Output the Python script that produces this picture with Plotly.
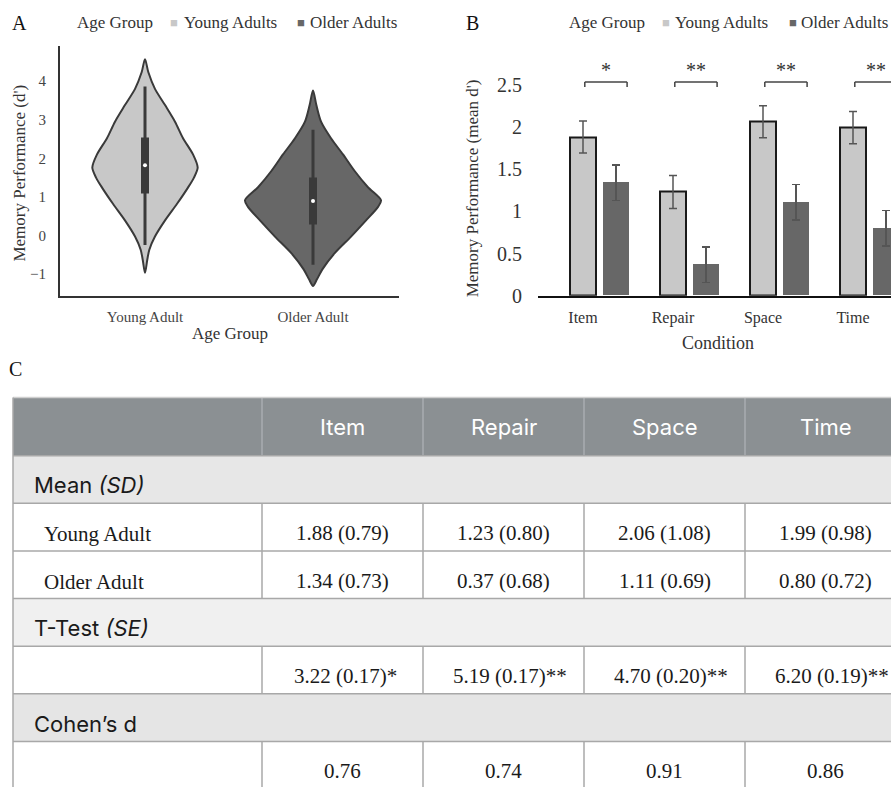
import plotly.graph_objects as go

W, H = 891, 798

# ---------------- data ----------------
age_groups = ["Young Adult", "Older Adult"]
legend_groups = ["Young Adults", "Older Adults"]
conditions = ["Item", "Repair", "Space", "Time"]

# Panel A: violin outlines (d' value, kernel density)
young_kde_y = [-0.97, -0.63, -0.37, -0.03, 0.39, 0.82, 1.24, 1.50, 1.76, 2.10, 2.52, 2.95, 3.38, 3.80, 4.23, 4.57]
young_kde_d = [0.0, 0.019, 0.036, 0.083, 0.167, 0.267, 0.358, 0.408, 0.439, 0.400, 0.317, 0.250, 0.167, 0.083, 0.028, 0.0]
older_kde_y = [-1.31, -1.14, -0.88, -0.46, -0.03, 0.39, 0.74, 0.91, 1.25, 1.67, 2.10, 2.52, 2.95, 3.38, 3.76]
older_kde_d = [0.0, 0.033, 0.078, 0.181, 0.317, 0.442, 0.542, 0.567, 0.458, 0.347, 0.250, 0.150, 0.067, 0.028, 0.0]
# inner box: whisker low, q1, median, q3, whisker high
young_box = [-0.25, 1.09, 1.82, 2.54, 3.86]
older_box = [-0.76, 0.28, 0.89, 1.50, 2.74]

# Panel B / table
young_mean = [1.88, 1.23, 2.06, 1.99]
older_mean = [1.34, 0.37, 1.11, 0.80]
young_sd = [0.79, 0.80, 1.08, 0.98]
older_sd = [0.73, 0.68, 0.69, 0.72]
young_err = [0.19, 0.195, 0.19, 0.19]
older_err = [0.21, 0.21, 0.21, 0.21]
sig_labels = ["*", "**", "**", "**"]
t_values = [3.22, 5.19, 4.70, 6.20]
t_se = [0.17, 0.17, 0.20, 0.19]
cohens_d = [0.76, 0.74, 0.91, 0.86]

# ---------------- style ----------------
SERIF = "Liberation Serif, Times New Roman, serif"
SANS = "Inter, Roboto, Arial, sans-serif"
LIGHT = "#c8c8c8"
DARK = "#676767"
EDGE = "#3a3a3a"
TXT = "#333333"


def pxx(x):
    return x / W


def pxy(y):
    return 1 - y / H


fig = go.Figure()

# ---------------- Panel A: violins ----------------
A_CAT_PX = 168.0
A_X0 = 145.0          # pixel of first category
A_ZERO = 238.7        # pixel of y = 0
A_UNIT = 39.1         # pixels per unit
WIDTH_SCALE = 120.0 / A_CAT_PX

for i, (ky, kd, stats, col) in enumerate([
    (young_kde_y, young_kde_d, young_box, LIGHT),
    (older_kde_y, older_kde_d, older_box, DARK),
]):
    right_x = [i + d * WIDTH_SCALE for d in kd]
    left_x = [i - d * WIDTH_SCALE for d in reversed(kd)][1:]
    xs = right_x + left_x
    ys = list(ky) + list(reversed(ky))[1:]
    fig.add_trace(go.Scatter(
        x=xs, y=ys, mode="lines", fill="toself", fillcolor=col,
        line=dict(color=EDGE, width=2, shape="spline", smoothing=0.8),
        xaxis="x", yaxis="y", showlegend=False, hoverinfo="skip"))
    lo, q1, med, q3, hi = stats
    fig.add_trace(go.Scatter(x=[i, i], y=[lo, hi], mode="lines",
                             line=dict(color="#3a3a3a", width=3),
                             xaxis="x", yaxis="y", showlegend=False, hoverinfo="skip"))
    fig.add_trace(go.Scatter(x=[i, i], y=[q1, q3], mode="lines",
                             line=dict(color="#3a3a3a", width=8),
                             xaxis="x", yaxis="y", showlegend=False, hoverinfo="skip"))
    fig.add_trace(go.Scatter(x=[i], y=[med], mode="markers",
                             marker=dict(color="white", size=4),
                             xaxis="x", yaxis="y", showlegend=False, hoverinfo="skip"))

# ---------------- Panel B: bars ----------------
B_CAT_PX = 90.0
B_X0 = 583.0
B_ZERO = 300.0
B_UNIT = 85.7
BAR_W = 0.29
OLDER_SHIFT = 0.367

fig.add_trace(go.Bar(
    x=conditions, y=young_mean, name=legend_groups[0], width=BAR_W, offset=-BAR_W / 2,
    marker=dict(color=LIGHT, line=dict(color="#1a1a1a", width=2)),
    error_y=dict(type="data", array=young_err, color="#555555", thickness=1.5, width=4),
    xaxis="x2", yaxis="y2", showlegend=False))
fig.add_trace(go.Bar(
    x=conditions, y=older_mean, name=legend_groups[1], width=BAR_W, offset=-BAR_W / 2 + OLDER_SHIFT,
    marker=dict(color=DARK, line=dict(color=DARK, width=0)),
    error_y=dict(type="data", array=older_err, color="#555555", thickness=1.5, width=4),
    xaxis="x2", yaxis="y2", showlegend=False))

shapes = []
annotations = []
BR_Y, BR_DROP, STAR_Y = 2.53, 0.06, 2.67
for i, s in enumerate(sig_labels):
    xa, xb = i + 0.02, i + 0.49
    for (x0, y0, x1, y1) in [(xa, BR_Y - BR_DROP, xa, BR_Y), (xa, BR_Y, xb, BR_Y), (xb, BR_Y, xb, BR_Y - BR_DROP)]:
        shapes.append(dict(type="line", xref="x2", yref="y2", x0=x0, y0=y0, x1=x1, y1=y1,
                           line=dict(color="#444444", width=1.5)))
    annotations.append(dict(xref="x2", yref="y2", x=(xa + xb) / 2, y=STAR_Y, text=s, showarrow=False,
                            xanchor="center", yanchor="middle",
                            font=dict(family=SERIF, size=20, color=TXT)))

# ---------------- Panel C: table ----------------
T_COL_PX = 161.0
T_C0 = 342.5          # pixel center of first data column
T_ROW_PX = 48.3
T_R0 = 486.15         # pixel center of first body row
TL = (13 - T_C0) / T_COL_PX
TR = len(conditions) - 0.5
HEAD_TOP = -0.5 - 59 / T_ROW_PX
HEAD_MID = (HEAD_TOP - 0.5) / 2

body_rows = [
    ("section", "Mean <i>(SD)</i>", None),
    ("data", age_groups[0], [f"{m:.2f} ({s:.2f})" for m, s in zip(young_mean, young_sd)]),
    ("data", age_groups[1], [f"{m:.2f} ({s:.2f})" for m, s in zip(older_mean, older_sd)]),
    ("section", "T-Test <i>(SE)</i>", None),
    ("data", "", [f"{t:.2f} ({se:.2f}){sg}" for t, se, sg in zip(t_values, t_se, sig_labels)]),
    ("section", "Cohen\u2019s d", None),
    ("data", "", [f"{d:.2f}" for d in cohens_d]),
]
section_fills = ["#e7e7e7", "#f0f0f0", "#e5e5e5"]
GRID = "#a8a8a8"
HEAD_FILL = "#8b9093"

shapes.append(dict(type="rect", xref="x3", yref="y3", x0=TL, x1=TR + 0.2, y0=HEAD_TOP, y1=-0.5,
                   fillcolor=HEAD_FILL, line=dict(width=0), layer="below"))
for j, c in enumerate(conditions):
    annotations.append(dict(xref="x3", yref="y3", x=j, y=HEAD_MID, text=c, showarrow=False,
                            xanchor="center", yanchor="middle",
                            font=dict(family=SANS, size=22, color="white")))
for j in range(len(conditions)):
    shapes.append(dict(type="line", xref="x3", yref="y3", x0=j - 0.5, x1=j - 0.5, y0=HEAD_TOP, y1=-0.5,
                       line=dict(color="#a9adb0", width=1.5)))

sec_k = 0
for r, (kind, label, vals) in enumerate(body_rows):
    if kind == "section":
        shapes.append(dict(type="rect", xref="x3", yref="y3", x0=TL, x1=TR + 0.2, y0=r - 0.5, y1=r + 0.5,
                           fillcolor=section_fills[sec_k], line=dict(width=0), layer="below"))
        sec_k += 1
        annotations.append(dict(xref="x3", yref="y3", x=(32 - T_C0) / T_COL_PX, y=r, text=label,
                                xanchor="left", yanchor="middle", showarrow=False, yshift=-6,
                                font=dict(family=SANS, size=22, color="#1a1a1a")))
    else:
        for j in range(len(conditions)):
            shapes.append(dict(type="line", xref="x3", yref="y3", x0=j - 0.5, x1=j - 0.5,
                               y0=r - 0.5, y1=r + 0.5, line=dict(color=GRID, width=1.5)))
        if label:
            annotations.append(dict(xref="x3", yref="y3", x=(42 - T_C0) / T_COL_PX, y=r, text=label,
                                    xanchor="left", yanchor="middle", showarrow=False, yshift=-7,
                                    font=dict(family=SERIF, size=21, color="#1a1a1a")))
        for j, v in enumerate(vals):
            # significance stars hang slightly to the right of the centred value
            n_star = len(v) - len(v.rstrip("*"))
            annotations.append(dict(xref="x3", yref="y3", x=j, y=r, text=v, showarrow=False, yshift=-6,
                                    xshift=3 * n_star, xanchor="center", yanchor="middle",
                                    font=dict(family=SERIF, size=21, color="#1a1a1a")))

for r in range(len(body_rows) + 1):
    shapes.append(dict(type="line", xref="x3", yref="y3", x0=TL, x1=TR + 0.2, y0=r - 0.5, y1=r - 0.5,
                       line=dict(color=GRID, width=1.5)))
shapes.append(dict(type="line", xref="x3", yref="y3", x0=TL, x1=TR + 0.2, y0=HEAD_TOP, y1=HEAD_TOP,
                   line=dict(color="#cfcfcf", width=1.5)))
shapes.append(dict(type="line", xref="x3", yref="y3", x0=TL, x1=TL, y0=HEAD_TOP, y1=len(body_rows),
                   line=dict(color=GRID, width=1.5)))


# ---------------- text: panel letters, legends, axis titles ----------------
def pan(text, x, y, size, **kw):
    d = dict(xref="paper", yref="paper", x=pxx(x), y=pxy(y), text=text, showarrow=False,
             xanchor="center", yanchor="middle",
             font=dict(family=kw.pop("family", SERIF), size=size, color=kw.pop("color", TXT)))
    d.update(kw)
    return d


annotations += [
    pan("A", 19, 23, 20, color="#111111"),
    pan("B", 472, 23, 20, color="#111111"),
    pan("C", 15, 374, 20, color="#111111"),
]
for (x_title, x_sq1, x_t1, x_sq2, x_t2) in [(75, 174, 182, 301, 308), (567, 666, 673, 793, 799)]:
    annotations += [
        pan("Age Group", x_title, 23, 17, xanchor="left"),
        pan("\u25a0", x_sq1, 23, 13, color=LIGHT, family="Liberation Sans, DejaVu Sans"),
        pan(legend_groups[0], x_t1, 23, 17, xanchor="left"),
        pan("\u25a0", x_sq2, 23, 13, color=DARK, family="Liberation Sans, DejaVu Sans"),
        pan(legend_groups[1], x_t2, 23, 17, xanchor="left"),
    ]
annotations += [
    pan("Memory Performance (d')", 20, 176, 17, textangle=-90),
    pan("Age Group", 230, 338, 17),
    pan("Memory Performance (mean d')", 472, 191, 17, textangle=-90),
    pan("Condition", 718, 348, 18),
]

# ---------------- layout ----------------
tickfont_a = dict(family=SERIF, size=15, color="#444444")
fig.update_layout(
    width=W, height=H, margin=dict(l=0, r=0, t=0, b=0),
    paper_bgcolor="white", plot_bgcolor="white", showlegend=False,
    bargap=0, shapes=shapes, annotations=annotations,
    xaxis=dict(domain=[pxx(60), pxx(399)],
               range=[(60 - A_X0) / A_CAT_PX, (399 - A_X0) / A_CAT_PX],
               tickvals=[0, 1], ticktext=age_groups, tickfont=tickfont_a,
               showline=True, linecolor="#333333", linewidth=2, ticks="",
               showgrid=False, zeroline=False, anchor="y", ticklabelstandoff=6),
    yaxis=dict(domain=[pxy(300), pxy(46.7)],
               range=[(A_ZERO - 300) / A_UNIT, (A_ZERO - 46.7) / A_UNIT],
               tickvals=[-1, 0, 1, 2, 3, 4], tickfont=tickfont_a,
               showline=True, linecolor="#333333", linewidth=2, ticks="",
               showgrid=False, zeroline=False, anchor="x", ticklabelstandoff=9),
    xaxis2=dict(domain=[pxx(538), 1.0], type="category",
                range=[(538 - B_X0) / B_CAT_PX, (891 - B_X0) / B_CAT_PX],
                tickfont=dict(family=SERIF, size=16, color=TXT),
                showline=True, linecolor="#111111", linewidth=1.5, ticks="",
                showgrid=False, zeroline=False, anchor="y2", ticklabelstandoff=6),
    yaxis2=dict(domain=[pxy(B_ZERO), pxy(B_ZERO - 2.75 * B_UNIT)], range=[0, 2.75],
                dtick=0.5, tick0=0, tickfont=dict(family=SERIF, size=20, color=TXT),
                showline=False, ticks="", showgrid=False, zeroline=False,
                anchor="x2", ticklabelstandoff=15),
    xaxis3=dict(domain=[0, 1], range=[(0 - T_C0) / T_COL_PX, (891 - T_C0) / T_COL_PX],
                visible=False, anchor="y3"),
    yaxis3=dict(domain=[0, pxy(395)],
                range=[(798 - T_R0) / T_ROW_PX, (395 - T_R0) / T_ROW_PX],
                visible=False, anchor="x3"),
)

fig.write_html("out.html", config={"displayModeBar": False},
               post_script="document.body.style.margin='0';document.body.style.overflow='hidden';")
